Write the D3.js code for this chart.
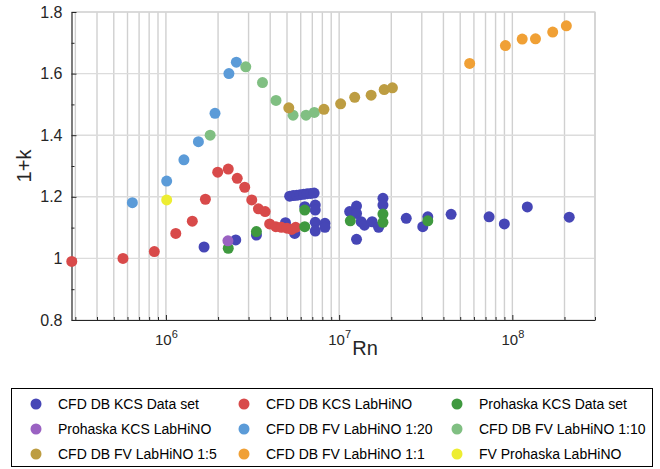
<!DOCTYPE html>
<html>
<head>
<meta charset="utf-8">
<script src="https://cdn.jsdelivr.net/npm/d3@7"></script>
<style>
  body { margin: 0; background: #fff; }
  svg { display: block; font-family: "Liberation Sans", Arial, sans-serif; }
</style>
</head>
<body>
<svg id="chart" width="660" height="469"></svg>
<script>
// values (Rn on a log axis, 1+k linear)
var kcsDataRn = [1.66e6, 2.53e6, 3.33e6, 4.90e6, 5.54e6, 5.18e6, 5.43e6, 5.69e6, 5.96e6, 6.24e6, 6.54e6, 6.85e6, 7.17e6,
    6.33e6, 7.28e6, 7.28e6, 7.28e6, 7.28e6, 8.28e6, 8.28e6, 1.15e7, 1.26e7, 1.26e7, 1.26e7, 1.34e7, 1.40e7, 1.55e7,
    1.69e7, 1.79e7, 1.79e7, 2.44e7, 3.04e7, 3.25e7, 4.43e7, 7.34e7, 8.99e7, 1.22e8, 2.13e8];
var kcsDataK = [1.037, 1.060, 1.076, 1.116, 1.081, 1.202, 1.204, 1.205, 1.207, 1.208, 1.210, 1.211, 1.212,
    1.168, 1.173, 1.157, 1.117, 1.089, 1.114, 1.101, 1.152, 1.170, 1.146, 1.062, 1.119, 1.108, 1.119,
    1.101, 1.195, 1.173, 1.130, 1.103, 1.135, 1.143, 1.135, 1.112, 1.167, 1.134];

var kcsLabRn = [2.86e5, 5.65e5, 8.57e5, 1.14e6, 1.42e6, 1.69e6, 1.99e6, 2.29e6, 2.58e6, 2.85e6, 3.13e6, 3.42e6,
    3.74e6, 3.97e6, 4.31e6, 4.64e6, 5.0e6, 5.32e6, 5.61e6];
var kcsLabK = [0.99, 1.0, 1.022, 1.081, 1.121, 1.192, 1.280, 1.290, 1.260, 1.231, 1.190, 1.161,
    1.152, 1.112, 1.103, 1.101, 1.098, 1.094, 1.101];

var prohaskaDataRn = [2.29e6, 3.33e6, 6.33e6, 6.33e6, 1.16e7, 1.79e7, 1.79e7, 3.25e7];
var prohaskaDataK = [1.033, 1.087, 1.157, 1.103, 1.122, 1.144, 1.117, 1.122];

var prohaskaLabRn = [2.28e6];
var prohaskaLabK = [1.057];

var fv20Rn = [6.4e5, 1.01e6, 1.27e6, 1.54e6, 1.92e6, 2.31e6, 2.55e6];
var fv20K = [1.181, 1.251, 1.320, 1.379, 1.471, 1.600, 1.637];

var fv10Rn = [1.80e6, 2.89e6, 3.61e6, 4.32e6, 5.42e6, 6.44e6, 7.19e6];
var fv10K = [1.400, 1.622, 1.571, 1.513, 1.465, 1.465, 1.474];

var fv5Rn = [5.12e6, 8.17e6, 1.02e7, 1.23e7, 1.53e7, 1.82e7, 2.03e7];
var fv5K = [1.489, 1.484, 1.502, 1.523, 1.530, 1.548, 1.554];

var fv1Rn = [5.67e7, 9.12e7, 1.14e8, 1.36e8, 1.71e8, 2.05e8];
var fv1K = [1.633, 1.691, 1.712, 1.713, 1.735, 1.755];

var fvProhaskaRn = [1.01e6];
var fvProhaskaK = [1.190];

var seriesNames = ["CFD DB KCS Data set", "CFD DB KCS LabHiNO", "Prohaska KCS Data set",
    "Prohaska KCS LabHiNO", "CFD DB FV LabHiNO 1:20", "CFD DB FV LabHiNO 1:10",
    "CFD DB FV LabHiNO 1:5", "CFD DB FV LabHiNO 1:1", "FV Prohaska LabHiNO"];
var seriesColors = ["#4646b6", "#d84a4a", "#3f993f", "#9a62c2", "#5b9bd8",
    "#80bf82", "#bd9d42", "#f0a035", "#eded32"];
var xTickExponents = [6, 7, 8];
var yTicks = [0.8, 1, 1.2, 1.4, 1.6, 1.8];

var chart;
chart = {
    width: 660,
    height: 469,
    margin: {left: 71.5, right: 65, top: 12, bottom: 149},
    markerRadius: 5.5,
    font: "Liberation Sans, Arial, sans-serif"
}

chart.buildSeries = function () {
    var rns = [kcsDataRn, kcsLabRn, prohaskaDataRn, prohaskaLabRn, fv20Rn, fv10Rn, fv5Rn, fv1Rn, fvProhaskaRn];
    var ks = [kcsDataK, kcsLabK, prohaskaDataK, prohaskaLabK, fv20K, fv10K, fv5K, fv1K, fvProhaskaK];
    return seriesNames.map(function (name, i) {
        return {
            name: name,
            color: seriesColors[i],
            points: rns[i].map(function (rn, j) { return {rn: rn, k: ks[i][j]}; })
        };
    });
}

chart.init = function () {
    var svg = d3.select("#chart");
    var m = chart.margin;
    var plotW = chart.width - m.left - m.right;
    var plotH = chart.height - m.top - m.bottom;

    var x = d3.scaleLog().domain([2.85e5, 3e8]).range([m.left, m.left + plotW]);
    var y = d3.scaleLinear().domain([0.8, 1.8]).range([m.top + plotH, m.top]);

    // grid: every 1..9 x 10^n vertically, major y ticks horizontally
    var gridX = [];
    for (var e = 5; e <= 8; e++) {
        for (var d = 1; d <= 9; d++) {
            var v = d * Math.pow(10, e);
            if (v >= x.domain()[0] && v <= x.domain()[1]) gridX.push(v);
        }
    }
    var grid = svg.append("g").attr("class", "grid");
    grid.selectAll("line.gx").data(gridX).enter().append("line")
        .attr("class", "gx")
        .attr("x1", function (v) { return x(v); }).attr("x2", function (v) { return x(v); })
        .attr("y1", y(0.8)).attr("y2", y(1.8))
        .style("stroke", "#d0d0d0").style("stroke-width", 1.4);
    grid.selectAll("line.gy").data(yTicks).enter().append("line")
        .attr("class", "gy")
        .attr("x1", x.range()[0]).attr("x2", x.range()[1])
        .attr("y1", function (v) { return y(v); }).attr("y2", function (v) { return y(v); })
        .style("stroke", "#dcdcdc").style("stroke-width", 1.4);

    // light box on top and right
    svg.append("path")
        .attr("d", "M" + x.range()[0] + "," + y(1.8) + "H" + x.range()[1] + "V" + y(0.8))
        .style("fill", "none").style("stroke", "#d0d0d0").style("stroke-width", 1.2);

    // axes with inward ticks
    var majorX = xTickExponents.map(function (p) { return Math.pow(10, p); });
    var xAxis = d3.axisBottom(x).tickValues(majorX).tickSizeInner(-5).tickSizeOuter(0).tickFormat("");
    var minorX = gridX.filter(function (v) { return majorX.indexOf(v) < 0; });
    var xMinor = d3.axisBottom(x).tickValues(minorX).tickSizeInner(-3).tickSizeOuter(0).tickFormat("");
    var gx = svg.append("g").attr("transform", "translate(0," + y(0.8) + ")").call(xAxis);
    svg.append("g").attr("transform", "translate(0," + y(0.8) + ")").call(xMinor).select(".domain").remove();

    var yAxis = d3.axisLeft(y).tickValues(yTicks).tickSizeInner(-5).tickSizeOuter(0).tickPadding(9)
        .tickFormat(function (v) { return d3.format("~g")(v); });
    var yMinor = d3.axisLeft(y).tickValues(d3.range(0.9, 1.8, 0.2)).tickSizeInner(-3).tickSizeOuter(0).tickFormat("");
    var gy = svg.append("g").attr("transform", "translate(" + x.range()[0] + ",0)").call(yAxis);
    svg.append("g").attr("transform", "translate(" + x.range()[0] + ",0)").call(yMinor).select(".domain").remove();

    svg.selectAll(".domain").style("stroke", "#262626").style("stroke-width", 1.2);
    svg.selectAll(".tick line").style("stroke", "#262626");
    gy.selectAll("text").style("font-size", "16px").style("fill", "#262626").style("font-family", chart.font);

    // 10^n labels with a superscript
    var xl = gx.selectAll(".tick").append("text")
        .attr("y", 25).attr("text-anchor", "middle")
        .style("fill", "#262626").style("font-family", chart.font);
    xl.append("tspan").style("font-size", "15px").text("10");
    xl.append("tspan").attr("dy", -7).style("font-size", "11px")
        .text(function (v) { return Math.round(Math.log10(v)); });

    svg.append("text").attr("x", 365).attr("y", 355)
        .attr("text-anchor", "middle").style("font-size", "20px").style("fill", "#262626")
        .text("Rn");
    svg.append("text").attr("transform", "translate(31," + y(1.3) + ") rotate(-90)")
        .attr("text-anchor", "middle").style("font-size", "20px").style("fill", "#262626")
        .text("1+k");

    var series = chart.buildSeries();
    var dots = svg.append("g").attr("class", "dots");
    series.forEach(function (s) {
        dots.append("g").selectAll("circle").data(s.points).enter().append("circle")
            .attr("cx", function (p) { return x(p.rn); })
            .attr("cy", function (p) { return y(p.k); })
            .attr("r", chart.markerRadius)
            .style("fill", s.color);
    });

    chart.drawLegend(svg, series);
}

chart.drawLegend = function (svg, series) {
    var legend = svg.append("g").attr("class", "legend");
    legend.append("rect").attr("x", 11.5).attr("y", 388.5).attr("width", 641).attr("height", 78)
        .style("fill", "#fff").style("stroke", "#000").style("stroke-width", 1);
    var colX = [36, 244, 457];
    var rowY = [404, 429, 454];
    series.forEach(function (s, i) {
        var cx = colX[i % 3], cy = rowY[Math.floor(i / 3)];
        legend.append("circle").attr("cx", cx).attr("cy", cy).attr("r", chart.markerRadius).style("fill", s.color);
        legend.append("text").attr("x", cx + 22).attr("y", cy + 5)
            .style("font-size", "14px").style("fill", "#000").text(s.name);
    });
}

chart.init();
</script>
</body>
</html>
